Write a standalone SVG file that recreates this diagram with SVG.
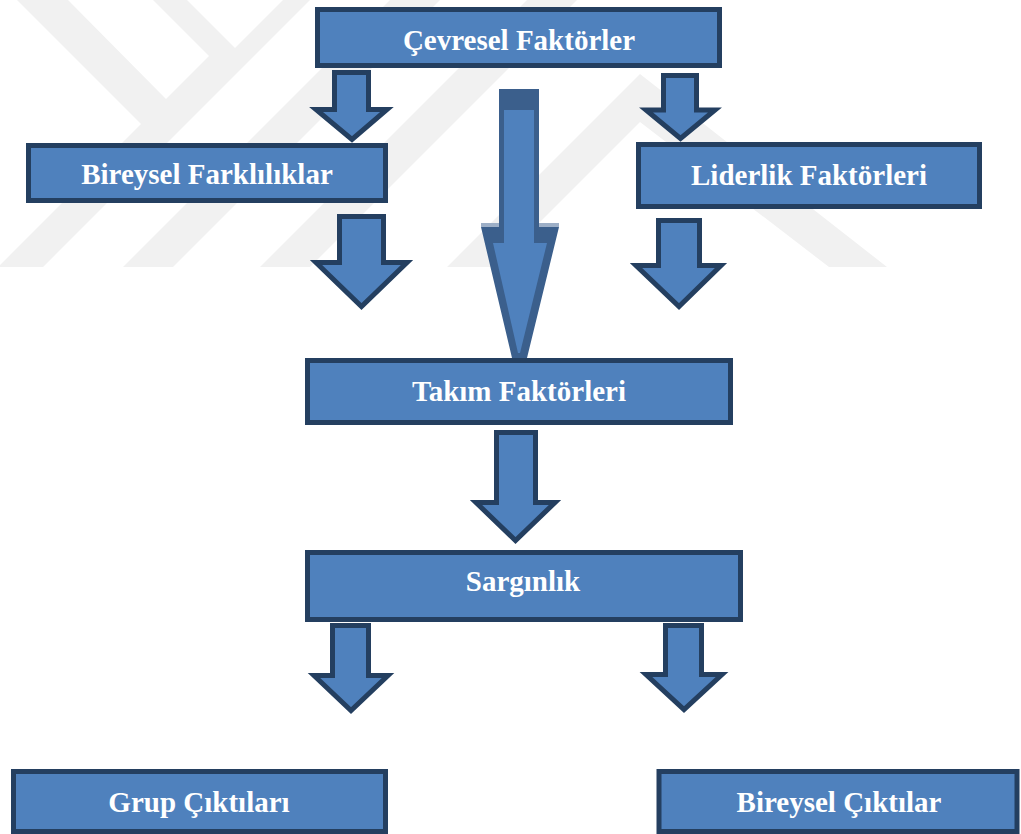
<svg xmlns="http://www.w3.org/2000/svg" width="1021" height="834" viewBox="0 0 1021 834">
<style>
.wm{fill:#f1f1f1;stroke:none}
.box{fill:#4f81bd;stroke:#243f60;stroke-width:5}
.arr{fill:#4f81bd;stroke:#243f60;stroke-width:5;stroke-linejoin:miter;stroke-miterlimit:10}
.lbl{font-family:"Liberation Serif","Times New Roman",serif;font-weight:bold;font-size:29px;fill:#ffffff;text-anchor:middle}
</style>
<rect width="1021" height="834" fill="#ffffff"/>
<g id="watermark">
<polygon class="wm" points="0,267 43,267 310,0 283,0 235,48 187,0 153,0 209,56 166,99 68,0 17,0 141,124 0,265"/>
<polygon class="wm" points="123,267 173,267 440,0 390,0"/>
<polygon class="wm" points="260,267 310,267 577,0 527,0"/>
<polygon class="wm" points="447,267 640,74 887,267 829,267 640,122 495,267"/>
</g>
<g id="connectors">
<polygon class="arr" points="334.5,72.5 368.5,72.5 368.5,109.5 387,109.5 352,139.5 316,109.5 334.5,109.5"/>
<polygon class="arr" points="663.5,75.5 696.5,75.5 696.5,110 715,110 680.5,138.5 646,110 663.5,110"/>
<polygon class="arr" points="339.5,216.5 383.5,216.5 383.5,262.5 407,262.5 361.5,306.5 316,262.5 339.5,262.5"/>
<polygon class="arr" points="658.5,220.5 699.5,220.5 699.5,265.5 721,265.5 679,306.5 636,265.5 658.5,265.5"/>
<polygon class="arr" points="496.5,432.5 535.5,432.5 535.5,502.5 555,502.5 515.5,540.5 476,502.5 496.5,502.5"/>
<polygon class="arr" points="332.5,625.5 368.5,625.5 368.5,675.5 388,675.5 351,710.5 314,675.5 332.5,675.5"/>
<polygon class="arr" points="665.5,625.5 701.5,625.5 701.5,674.5 722,674.5 684,709.5 646,674.5 665.5,674.5"/>
<g id="central-arrow">
<rect x="481" y="223" width="18" height="4" fill="#9dafc7"/>
<rect x="539" y="223" width="20" height="4" fill="#9dafc7"/>
<polygon fill="#3b5f8c" points="499,89 539,89 539,227 559,227 527,358 512,358 481,227 499,227"/>
<polygon fill="#4f81bd" points="504,110 534,110 534,243 547,243 520,353 518,353 493,243 504,243"/>
</g>
</g>
<g id="node-cevresel">
<rect class="box" x="317.5" y="9.5" width="402" height="56"/>
<text class="lbl" x="519" y="50">Çevresel Faktörler</text>
</g>
<g id="node-bireysel-farkliliklar">
<rect class="box" x="28.5" y="145.5" width="357" height="55"/>
<text class="lbl" x="207" y="184">Bireysel Farklılıklar</text>
</g>
<g id="node-liderlik">
<rect class="box" x="638.5" y="144.5" width="341" height="62"/>
<text class="lbl" x="809" y="185">Liderlik Faktörleri</text>
</g>
<g id="node-takim">
<rect class="box" x="307.5" y="360.5" width="423" height="62"/>
<text class="lbl" x="519" y="401">Takım Faktörleri</text>
</g>
<g id="node-sargınlik">
<rect class="box" x="307.5" y="552.5" width="433" height="67"/>
<text class="lbl" x="523" y="591">Sargınlık</text>
</g>
<g id="node-grup">
<rect class="box" x="13.5" y="771.5" width="372" height="60"/>
<text class="lbl" x="199" y="812">Grup Çıktıları</text>
</g>
<g id="node-bireysel-ciktilar">
<rect class="box" x="659" y="771.5" width="358" height="60"/>
<text class="lbl" x="839" y="812">Bireysel Çıktılar</text>
</g>
</svg>
